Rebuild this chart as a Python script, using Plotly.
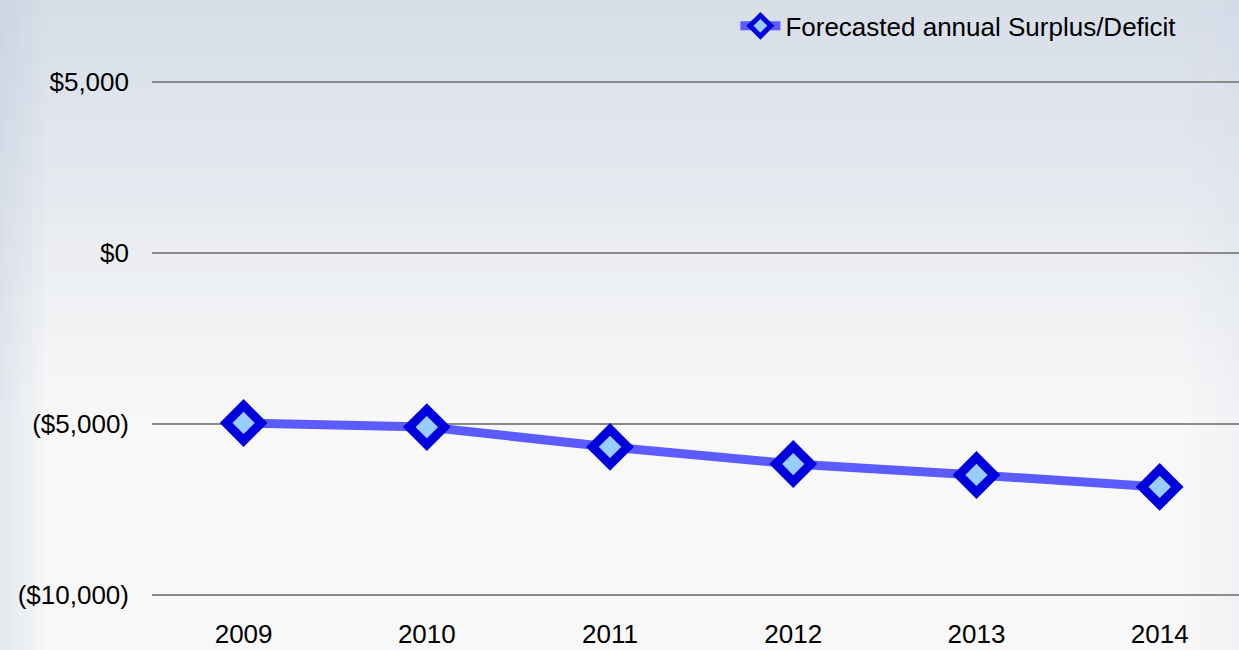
import plotly.graph_objects as go

years = ["2009", "2010", "2011", "2012", "2013", "2014"]
surplus_deficit = [-4970, -5090, -5670, -6170, -6490, -6840]
series_name = "Forecasted annual Surplus/Deficit"
y_tick_values = [5000, 0, -5000, -10000]
y_tick_labels = ["$5,000", "$0", "($5,000)", "($10,000)"]


def mix(c1, c2, t):
    r = [round(a + (b - a) * t) for a, b in zip(c1, c2)]
    return "rgb({},{},{})".format(*r)


fig = go.Figure()
fig.add_trace(go.Scatter(
    x=years, y=surplus_deficit, name=series_name, mode="lines+markers",
    line=dict(color="#5b5bff", width=9),
    marker=dict(symbol="diamond", size=27, color="#99ccff",
                line=dict(color="#0000dd", width=9)),
    showlegend=True,
))

# soft background: opaque bands fading from blue-grey at the top to near white
shapes = []
L, R, T, B = -0.147, 1.0, 1.16, -0.15
top_c, low_c = (214, 221, 232), (248, 248, 248)
n = 24
band_bottom = 0.35
h = (T - band_bottom) / n
for k in range(n):
    shapes.append(dict(type="rect", xref="paper", yref="paper", layer="below",
                       x0=L, x1=R, y0=T - (k + 1) * h - 0.002, y1=T - k * h,
                       fillcolor=mix(top_c, low_c, (k + 0.5) / n), line=dict(width=0)))
# left and right edge shading
m = 8
for k in range(m):
    a = 0.32 * (1 - k / m)
    shapes.append(dict(type="rect", xref="paper", yref="paper", layer="below",
                       x0=L + k * 0.006, x1=L + (k + 1) * 0.006, y0=B, y1=T,
                       fillcolor="rgba(175,192,214,{:.3f})".format(a), line=dict(width=0)))
    shapes.append(dict(type="rect", xref="paper", yref="paper", layer="below",
                       x0=R - (k + 1) * 0.006, x1=R - k * 0.006, y0=B, y1=T,
                       fillcolor="rgba(205,212,230,{:.3f})".format(a * 0.5), line=dict(width=0)))

fig.update_layout(
    template="none",
    width=1239, height=650,
    margin=dict(l=152, r=0, t=80, b=53, pad=0),
    paper_bgcolor="#f8f8f8", plot_bgcolor="rgba(0,0,0,0)",
    font=dict(family="Liberation Sans, Arial, sans-serif", size=26, color="#000000"),
    shapes=shapes,
    showlegend=True,
    legend=dict(x=0.947, xanchor="right", y=1.15, yanchor="top",
                bgcolor="rgba(0,0,0,0)", borderwidth=0, font=dict(size=26),
                itemwidth=40, tracegroupgap=0),
    xaxis=dict(type="category", range=[-0.5, 5.433], showgrid=False, automargin=False,
               zeroline=False, showline=False, ticks="", ticklabelstandoff=19),
    yaxis=dict(range=[-10058, 5058], tickvals=y_tick_values, ticktext=y_tick_labels,
               automargin=False,
               showgrid=True, gridcolor="#8a8a8a", gridwidth=2, zeroline=False,
               showline=False, ticks="", ticklabelstandoff=22),
)

fig.write_html("out.html", config={"displayModeBar": False},
               post_script="document.body.style.margin='0';document.body.style.overflow='hidden';")
